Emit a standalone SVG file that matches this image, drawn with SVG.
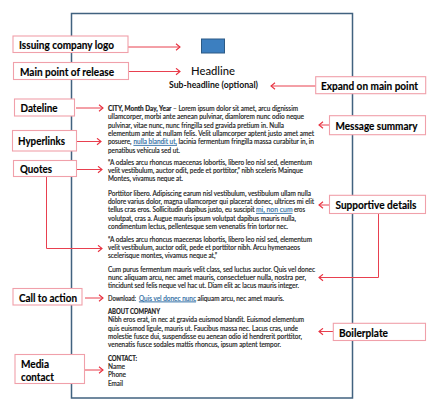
<svg xmlns="http://www.w3.org/2000/svg" width="435" height="412" viewBox="0 0 435 412">
<style>
.b{fill:#fff;stroke:#f0a0aa;stroke-width:1.1}
.l{font:bold 11.5px Lato,"Liberation Sans",sans-serif;fill:#000;stroke:#000;stroke-width:.15}
.c{fill:none;stroke:#e8404f;stroke-width:1}
.d{font:7.4px Lato,"Liberation Sans",sans-serif;fill:#222;stroke:#222;stroke-width:.18}
.h{font-weight:bold}
.s{font-size:6.7px}
.u{fill:#2e6da4;stroke:#2e6da4;text-decoration:underline}
</style>
<defs><marker id="a" markerWidth="8" markerHeight="8" refX="5" refY="4" orient="auto" markerUnits="userSpaceOnUse"><path d="M1 .8L5 4L1 7.2" fill="none" stroke="#e8303f" stroke-width="1.1"/></marker></defs>
<rect width="435" height="412" fill="#fff"/>
<g id="page">
<rect x="71.5" y="13.5" width="281" height="384.5" fill="#fff" stroke="#41627f" stroke-width="1.5"/>
<rect x="201.5" y="39" width="23" height="14" fill="#3c7fc0" stroke="#2c5a85"/>
<text x="191" y="75" font-family="Lato,'Liberation Sans',sans-serif" font-size="12" font-weight="500" fill="#111" textLength="44" lengthAdjust="spacingAndGlyphs">Headline</text>
<text x="169" y="88" font-family="Lato,'Liberation Sans',sans-serif" font-size="8.6" font-weight="bold" fill="#111" textLength="89" lengthAdjust="spacingAndGlyphs">Sub-headline (optional)</text>
<g class="d">
<text lengthAdjust="spacingAndGlyphs" x="108" y="110.5" class="h s" textLength="63.5">CITY, Month Day, Year</text>
<text lengthAdjust="spacingAndGlyphs" x="173" y="110.5" textLength="125">– Lorem ipsum dolor sit amet, arcu dignissim</text>
<text lengthAdjust="spacingAndGlyphs" x="108" y="119" textLength="196">ullamcorper, morbi ante aenean pulvinar, diamlorem nunc odio neque</text>
<text lengthAdjust="spacingAndGlyphs" x="108" y="127.5" textLength="176">pulvinar, vitae nunc, nunc fringilla sed gravida pretium in. Nulla</text>
<text lengthAdjust="spacingAndGlyphs" x="108" y="135.5" textLength="206">elementum ante at nullam felis. Velit ullamcorper aptent justo amet amet</text>
<text lengthAdjust="spacingAndGlyphs" x="108" y="144" textLength="23.5">posuere,</text>
<text lengthAdjust="spacingAndGlyphs" x="133.5" y="144" class="u" textLength="43.5">nulla blandit ut,</text>
<text lengthAdjust="spacingAndGlyphs" x="178.5" y="144" textLength="135.5">lacinia fermentum fringilla massa curabitur in, in</text>
<text lengthAdjust="spacingAndGlyphs" x="108" y="152.5" textLength="72">penatibus vehicula sed ut.</text>
<text lengthAdjust="spacingAndGlyphs" x="108" y="164.5" textLength="204">“A odales arcu rhoncus maecenas lobortis, libero leo nisl sed, elementum</text>
<text lengthAdjust="spacingAndGlyphs" x="108" y="172.5" textLength="195">velit vestibulum, auctor odit, pede et porttitor,” nibh sceleris Mainque</text>
<text lengthAdjust="spacingAndGlyphs" x="108" y="181" textLength="75">Montes, vivamus neque at.</text>
<text lengthAdjust="spacingAndGlyphs" x="108" y="195.5" textLength="203">Porttitor libero. Adipiscing earum nisl vestibulum, vestibulum ullam nulla</text>
<text lengthAdjust="spacingAndGlyphs" x="108" y="203.5" textLength="206">dolore varius dolor, magna ullamcorper qui placerat donec, ultrices mi elit</text>
<text lengthAdjust="spacingAndGlyphs" x="108" y="212" class="s" textLength="146.5">tellus cras eros. Sollicitudin dapibus justo, eu suscipit</text>
<text lengthAdjust="spacingAndGlyphs" x="256" y="212" class="u" textLength="36.5">mi, non cum</text>
<text lengthAdjust="spacingAndGlyphs" x="294" y="212" textLength="11">eros</text>
<text lengthAdjust="spacingAndGlyphs" x="108" y="220.5" textLength="188">volutpat, cras a. Augue mauris ipsum volutpat dapibus mauris nulla,</text>
<text lengthAdjust="spacingAndGlyphs" x="108" y="228.5" textLength="180">condimentum lectus, pellentesque sem venenatis frin tortor nec.</text>
<text lengthAdjust="spacingAndGlyphs" x="108" y="241.5" textLength="204">“A odales arcu rhoncus maecenas lobortis, libero leo nisl sed, elementum</text>
<text lengthAdjust="spacingAndGlyphs" x="108" y="249.5" textLength="192">velit vestibulum, auctor odit, pede et porttitor nibh. Arcu hymenaeos</text>
<text lengthAdjust="spacingAndGlyphs" x="108" y="258" textLength="109">scelerisque montes, vivamus neque at,”</text>
<text lengthAdjust="spacingAndGlyphs" x="108" y="271.5" textLength="207">Cum purus fermentum mauris velit class, sed luctus auctor. Quis vel donec</text>
<text lengthAdjust="spacingAndGlyphs" x="108" y="279.5" textLength="198">nunc aliquam arcu, nec amet mauris, consectetuer nulla, nostra per,</text>
<text lengthAdjust="spacingAndGlyphs" x="108" y="288" textLength="191">tincidunt sed felis neque vel hac ut. Diam elit ac lacus mauris integer.</text>
<text lengthAdjust="spacingAndGlyphs" x="108" y="300.5" class="s" textLength="28">Download:</text>
<text lengthAdjust="spacingAndGlyphs" x="139" y="300.5" class="u" textLength="57">Quis vel donec nunc</text>
<text lengthAdjust="spacingAndGlyphs" x="197.5" y="300.5" textLength="86.5">aliquam arcu, nec amet mauris.</text>
<text lengthAdjust="spacingAndGlyphs" x="108" y="313.5" class="h" textLength="52">ABOUT COMPANY</text>
<text lengthAdjust="spacingAndGlyphs" x="108" y="322" textLength="196">Nibh eros erat, in nec at gravida euismod blandit. Euismod elementum</text>
<text lengthAdjust="spacingAndGlyphs" x="108" y="330.5" textLength="190">quis euismod ligule, mauris ut. Faucibus massa nec. Lacus cras, unde</text>
<text lengthAdjust="spacingAndGlyphs" x="108" y="338.5" textLength="194">molestie fusce dui, suspendisse eu aenean odio id hendrerit porttitor,</text>
<text lengthAdjust="spacingAndGlyphs" x="108" y="347" textLength="173">venenatis fusce sodales mattis rhoncus, ipsum aptent tempor.</text>
<text lengthAdjust="spacingAndGlyphs" x="108" y="360.5" class="h" textLength="29">CONTACT:</text>
<text x="108" y="368.5" lengthAdjust="spacingAndGlyphs" textLength="17">Name</text>
<text x="108" y="376.5" lengthAdjust="spacingAndGlyphs" textLength="18">Phone</text>
<text x="108" y="385.5" lengthAdjust="spacingAndGlyphs" textLength="15">Email</text>
</g>
</g>
<g id="connectors">
<path class="c" marker-end="url(#a)" d="M128 47H180"/>
<path class="c" marker-end="url(#a)" d="M129 71.5H180"/>
<path class="c" marker-end="url(#a)" d="M76 108H103"/>
<path class="c" marker-end="url(#a)" d="M77 141.5H101"/>
<path class="c" marker-end="url(#a)" d="M76 169.5H102"/>
<path class="c" marker-end="url(#a)" d="M46.5 176.5V248.5H102"/>
<path class="c" marker-end="url(#a)" d="M316 86H271"/>
<path class="c" marker-end="url(#a)" d="M330 125H319"/>
<path class="c" marker-end="url(#a)" d="M330 205H319"/>
<path class="c" marker-end="url(#a)" d="M378.5 213.5V277.5H319"/>
<path class="c" marker-end="url(#a)" d="M85 298H103"/>
<path class="c" marker-end="url(#a)" d="M85 370H103"/>
<path class="c" marker-end="url(#a)" d="M333 331.5H319"/>
</g>
<g id="n1"><rect class="b" x="13" y="36" width="115" height="16.5"/><text class="l" x="19" y="49" textLength="95" lengthAdjust="spacingAndGlyphs">Issuing company logo</text></g>
<g id="n2"><rect class="b" x="13.5" y="62.5" width="115" height="17"/><text class="l" x="20" y="76" textLength="94" lengthAdjust="spacingAndGlyphs">Main point of release</text></g>
<g id="n3"><rect class="b" x="14.5" y="99" width="60" height="17"/><text class="l" x="20.5" y="112" textLength="37" lengthAdjust="spacingAndGlyphs">Dateline</text></g>
<g id="n4"><rect class="b" x="12.5" y="130.5" width="64" height="20.5"/><text class="l" x="18" y="145" textLength="47" lengthAdjust="spacingAndGlyphs">Hyperlinks</text></g>
<g id="n5"><rect class="b" x="13.5" y="160.5" width="63" height="16"/><text class="l" x="20" y="173" textLength="32" lengthAdjust="spacingAndGlyphs">Quotes</text></g>
<g id="n6"><rect class="b" x="13" y="288.5" width="69" height="16.5"/><text class="l" x="19" y="302" textLength="58" lengthAdjust="spacingAndGlyphs">Call to action</text></g>
<g id="n7"><rect class="b" x="15" y="354.5" width="69.5" height="29"/><text class="l" x="21" y="368" textLength="28" lengthAdjust="spacingAndGlyphs">Media</text><text class="l" x="21" y="381" textLength="33" lengthAdjust="spacingAndGlyphs">contact</text></g>
<g id="n8"><rect class="b" x="315.7" y="76.7" width="110" height="17"/><text class="l" x="321" y="90" textLength="97" lengthAdjust="spacingAndGlyphs">Expand on main point</text></g>
<g id="n9"><rect class="b" x="329.5" y="115.7" width="96" height="19"/><text class="l" x="335.5" y="129.5" textLength="82" lengthAdjust="spacingAndGlyphs">Message summary</text></g>
<g id="n10"><rect class="b" x="329.5" y="195.3" width="96" height="18.2"/><text class="l" x="335.5" y="209" textLength="81" lengthAdjust="spacingAndGlyphs">Supportive details</text></g>
<g id="n11"><rect class="b" x="333.3" y="323.3" width="92.2" height="17.2"/><text class="l" x="339" y="337" textLength="49" lengthAdjust="spacingAndGlyphs">Boilerplate</text></g>
</svg>
